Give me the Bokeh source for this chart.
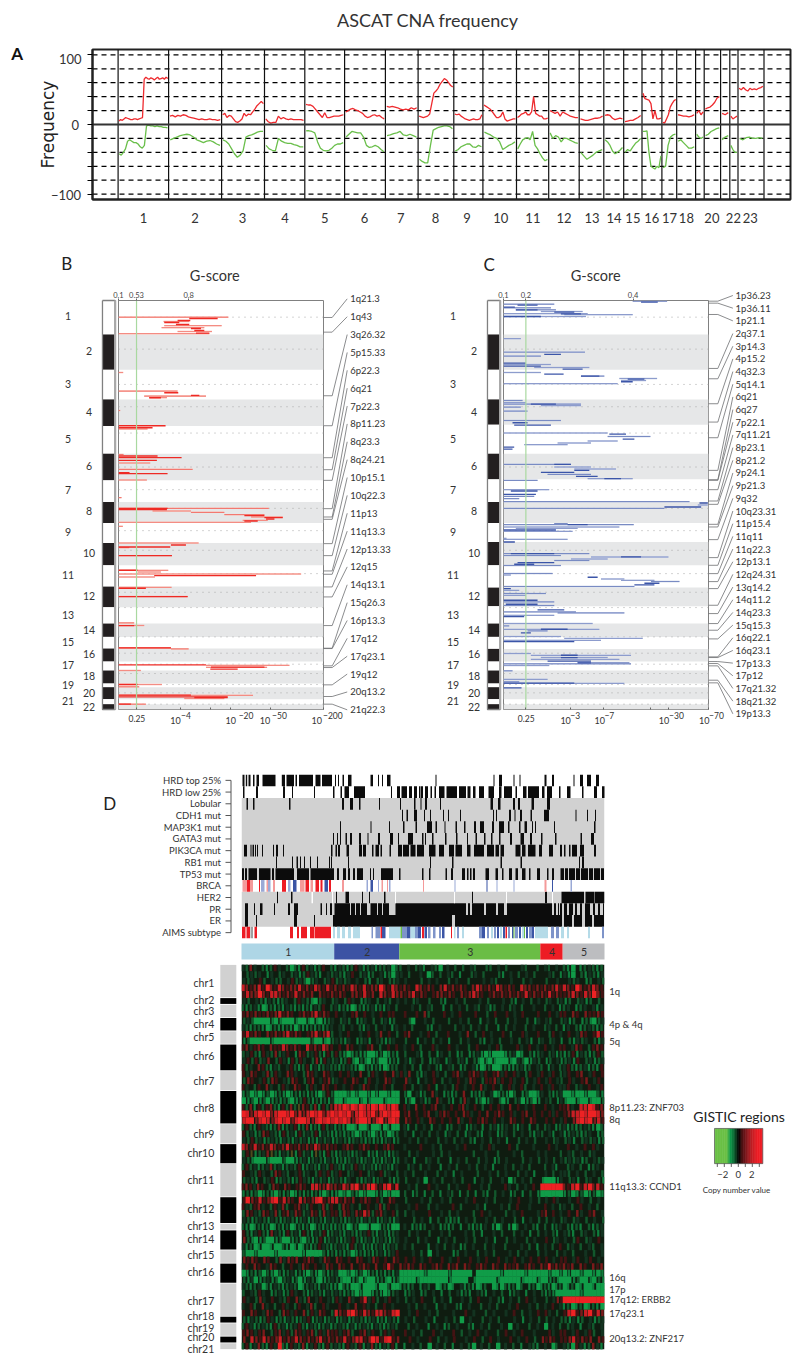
from bokeh.plotting import figure
from bokeh.layouts import column, row
from bokeh.models import Range1d, LinearAxis, FixedTicker
from bokeh.core.properties import value
from bokeh.embed import file_html
from bokeh.resources import INLINE
import numpy as np

FONT = "Lato"
# ---------- Panel A data ----------
chrom_width = [50.5,53,42.9,40.3,39.8,40.8,32.7,35.7,29.1,33.6,32.2,30.5,24.6,19.9,18.3,19.9,14.8,18.9,8.6,16.4,9.2,8.2,26]
a_tick_pos = [25.5,77,124.4,166.8,206.6,246.4,282.6,317.3,348.9,382.6,414.8,445.9,473.9,495.9,514.8,533.6,551.5,568.3,593.8,615.3,632.1]
a_tick_lab = ["1","2","3","4","5","6","7","8","9","10","11","12","13","14","15","16","17","18","20","22","23"]
gain = [
 [5,7,6,8,10,9,8,7,7,8,8,7,8,9,10,65,68,66,65,67,66,64,66,68,65,66,67,65,68,66],
 [12,13,11,13,12,14,13,11,10,9,8,7,8,7,7,8,7,7,6,7],
 [14,16,10,13,12,8,4,3,5,8,16,12,15,14,18,22,27,30,33,30],
 [8,4,2,3,3,12,8,10,8,7,8,7,7,7,7,6],
 [29,28,28,26,22,18,14,10,17,10,10,11,12,12,12,13,14],
 [18,20,22,23,21,20,18,16,12,10,11,13,14,12,13,10,8],
 [26,25,26,25,24,22,21,22,21,24,22,24],
 [12,11,10,11,12,15,30,45,48,52,58,62,66,64,60,56,54],
 [15,14,15,12,10,8,7,6,7,8,7,7,8,14],
 [28,26,24,22,18,14,10,10,12,18,8,5,6,7,8,8],
 [10,12,15,16,18,14,14,18,40,16,14,12,12,8,8,9],
 [20,18,16,18,12,18,16,14,12,11,10,10],
 [8,7,6,6,7,8,9,9,10,12],
 [13,14,13,9,7,8,9,8],
 [4,5,6,6,8,10,13],
 [45,37,36,35,30,8,20,8,8,9],
 [3,2,8,14,25,30,34,36],
 [14,13,12,12,11,12,14],
 [16,20,14,18],
 [22,24,25,28,32,38,40],
 [16,14,17],
 [12,8,10,12],
 [52,50,53,50,48,52,50,51,50,52,53,55],
]
loss = [
 [-42,-44,-40,-35,-24,-22,-24,-26,-26,-28,-32,-34,-30,-2,-1,-2,-2,-3,-2,-3,-3,-4,-4,-5],
 [-22,-20,-18,-16,-15,-14,-15,-18,-22,-24,-26,-24,-23,-25,-28,-30],
 [-22,-24,-28,-35,-42,-47,-44,-38,-18,-16,-15,-13,-11,-10,-10],
 [-30,-35,-37,-38,-20,-24,-26,-27,-27,-29,-30,-32,-32],
 [-9,-9,-10,-12,-25,-34,-37,-38,-37,-34,-30,-28,-28,-26],
 [-18,-14,-10,-11,-12,-12,-18,-30,-33,-32,-30,-32,-36,-39],
 [-16,-15,-13,-12,-10,-15,-16,-14,-16,-18],
 [-50,-53,-55,-55,-30,-8,-6,-4,-3,-2,-2,-3,-6],
 [-38,-36,-32,-30,-28,-28,-32,-33,-30,-32],
 [-11,-13,-15,-18,-20,-25,-36,-33,-30,-28,-25],
 [-35,-28,-22,-20,-19,-22,-10,-30,-35,-42,-48,-52,-50],
 [-12,-20,-16,-18,-25,-20,-20,-22,-24,-26,-27],
 [-40,-45,-50,-47,-44,-40,-38,-36],
 [-22,-25,-30,-38,-42,-40,-37,-33],
 [-40,-36,-38,-32,-27,-24,-20],
 [-10,-10,-9,-40,-60,-62,-64,-60,-62,-45],
 [-62,-60,-30,-18,-15,-14],
 [-24,-22,-26,-30,-34,-34,-32],
 [-14,-18,-20,-18],
 [-16,-14,-10,-8,-6,-5],
 [-22,-18,-16],
 [-30,-36,-40,-40],
 [-20,-22,-19,-18,-20,-20,-19,-20],
]
# ---------- Panels B and C data ----------
b_edges = [150,252,358,447,527,610,690,755,818,878,945,1009,1071,1120,1160,1195,1234,1261,1300,1311,1347,1362,1378]
c_edges = [150,252,358,447,523,610,687,755,818,875,945,1012,1068,1120,1160,1196,1234,1261,1300,1311,1347,1362,1378]
dotted_rows = [200,296,402,469,548,650,718,774,841,900,970,1026,1072,1160,1209,1242,1270,1303,1328,1362]
chrom_names = [str(i) for i in range(1,23)]
chrom_label_y = [198,303,400,484,565,648,718,783,846,908,975,1038,1093,1138,1175,1212,1245,1278,1303,1328,1352,1370]
b_light = [(200,203,532),(213,338,415),(226,340,512),(232,332,460),(243,380,483),(250,203,475),(366,203,217),(422,203,380),(437,280,465),(442,295,348),(480,203,208),(536,203,290),(612,203,218),(638,203,298),(657,203,425),(689,203,288),(742,203,212),
 (774,203,653),(782,305,420),(786,420,520),(793,520,640),(800,600,695),(810,575,650),(816,203,600),(828,203,216),(878,203,443),(892,203,235),(916,203,363),(960,203,352),(965,260,330),(971,203,750),(980,203,312),(1011,203,362),(1039,203,410),(1118,203,250),(1126,203,280),(1193,203,360),(1196,360,413),(1245,465,715),(1251,465,648),(1261,203,270),(1303,203,333),(1310,203,265),(1335,203,606),(1345,400,520),(1362,203,285)]
b_core = [(204,415,500),(210,380,418),(216,340,385),(222,375,415),(234,420,450),(240,430,460),(248,435,475),(427,340,382),(435,420,445),(442,295,330),(526,203,344),(532,203,305),(617,203,320),(622,203,392),(630,203,318),(667,203,236),(670,203,350),
 (778,203,348),(774,203,350),(796,580,640),(802,640,695),(806,645,670),(812,580,620),(884,360,405),(890,203,358),(960,203,260),(976,310,615),(1014,203,285),(1039,203,410),(1126,203,250),(916,203,363),(1193,203,360),(1244,203,465),(1251,480,640),(1257,478,560),(1340,203,530),(1342,430,530),(1335,203,420),(1362,203,240),(1303,203,260)]
c_light = [(152,575,678),(161,188,340),(172,188,330),(178,225,345),(183,300,425),(190,188,440),(193,370,575),(198,188,435),(265,188,240),(305,188,432),(317,188,300),(342,188,330),(351,280,445),(366,188,300),(377,420,490),(384,535,648),(390,540,615),(400,188,530),(450,188,245),(457,188,255),(461,188,420),(466,300,420),(470,188,240),(482,188,260),(510,188,360),(548,188,500),(558,500,628),(572,440,530),(578,350,450),(583,250,380),(642,188,390),(650,340,450),(656,400,525),(672,320,450),(685,440,575),(690,188,290),(718,188,325),(738,188,280),(745,188,235),
 (754,188,745),(764,770,800),(774,188,670),(820,340,380),(823,188,578),(830,188,535),(834,225,410),(843,188,395),(864,188,197),(867,188,380),(910,188,445),(916,188,360),(920,450,682),(926,390,500),(931,340,445),(946,188,360),(970,188,335),(974,188,210),(986,480,550),(990,540,640),(994,630,715),(1009,188,580),(1020,188,235),(1030,188,315),(1035,188,255),(1055,188,340),(1066,188,340),(1085,188,405),(1088,350,550),(1095,188,340),(1120,188,455),(1127,188,205),(1137,188,475),(1142,260,320),(1159,188,360),(1164,370,605),(1170,188,480),(1210,188,270),(1215,270,570),(1222,300,500),(1227,270,535),(1238,410,565),(1241,188,570),(1246,188,325),(1262,188,215),(1287,188,320),(1295,188,235),(1299,188,550)]
c_core = [(155,600,650),(164,230,290),(170,188,222),(178,225,290),(185,340,400),(190,360,420),(198,188,300),(312,310,360),(338,188,255),(347,188,300),(356,365,425),(371,310,368),(377,420,475),(386,560,610),(394,540,575),(461,270,345),(517,215,260),(524,220,330),(551,505,555),(566,545,580),(590,188,220),(596,188,215),(642,340,390),(660,400,445),(666,300,400),(678,405,470),(685,490,540),(722,210,290),(732,188,285),
 (758,775,800),(770,670,780),(823,380,440),(839,188,345),(875,188,222),(910,210,340),(920,540,600),(937,230,340),(942,220,280),(981,440,470),(999,610,655),(1004,580,640),(1015,188,210),(1050,188,290),(1062,195,290),(1079,290,370),(1099,188,250),(1137,300,380),(1148,240,270),(1174,188,400),(1215,360,410),(1222,360,410),(1233,320,450),(1238,410,450),(1299,188,400),(1313,188,242)]
b_labels = ["1q21.3","1q43","3q26.32","5p15.33","6p22.3","6q21","7p22.3","8p11.23","8q23.3","8q24.21","10p15.1","10q22.3","11p13","11q13.3","12p13.33","12q15","14q13.1","15q26.3","16p13.3","17q12","17q23.1","19q12","20q13.2","21q22.3"]
b_peaks = [201,245,436,526,622,658,690,775,800,807,880,916,962,972,1010,1040,1126,1194,1195,1247,1252,1304,1339,1362]
c_labels = ["1p36.23","1p36.11","1p21.1","2q37.1","3p14.3","4p15.2","4q32.3","5q14.1","6q21","6q27","7p22.1","7q11.21","8p23.1","8p21.2","9p24.1","9p21.3","9q32","10q23.31","11p15.4","11q11","11q22.3","12p13.1","12q24.31","13q14.2","14q11.2","14q23.3","15q15.3","16q22.1","16q23.1","17p13.3","17p12","17q21.32","18q21.32","19p13.3"]
c_peaks = [152,158,192,354,385,460,515,562,660,688,690,718,752,762,822,830,868,922,945,970,994,1015,1065,1090,1120,1140,1166,1220,1222,1234,1240,1247,1290,1298]
# ---------- Panel D data ----------
track_names = ["HRD top 25%","HRD low 25%","Lobular","CDH1 mut","MAP3K1 mut","GATA3 mut","PIK3CA mut","RB1 mut","TP53 mut","BRCA","HER2","PR","ER","AIMS subtype"]
hrd_top = [(0.5,2.5),(3.8,5.2),(6.5,8.5),(11,12.5),(14.5,17),(20.5,33.5),(39.8,43),(44.5,52),(53.5,55),(57,71),(73.5,78.5),(80,90),(93,94),(96,97),(100.5,102),(106,109.5),(128.5,131),(136,137),(140,141),(145,148.5),(193.5,194.5),(251.5,252.5),(257,260),(271.5,272.5),(277.5,278.5),(302.5,304.5),(310,312),(331.5,332.5),(338,341),(345,349),(354,357)]
hrd_low = [(1,2.5),(14,16),(41,43),(50,51),(72,73),(91,92.5),(98.5,100),(102.5,107),(112,123),(149,150),(155,158),(159.5,165),(167,170),(172,175),(177,178),(178.5,181),(183,186),(188.5,190),(192.5,194),(197,202.5),(204.5,215),(217,224),(225.5,228.5),(231,233.5),(237,242),(246.5,252),(257,259.5),(262,270),(273.5,275),(281,284.5),(286,297),(300,302.5),(305,310),(317,318.5),(325,328.5),(340,341.5),(352,355),(360,363)]
lobular = [(4.5,6),(11,12.5),(47,48.5),(100,102),(108,111),(117,118.5),(137,138),(158,159),(172,173.5),(178.5,179.5),(183,185),(198,199),(248.5,251),(256,258.5),(271,273),(276,278),(289.5,292),(305,308)]
cdh1 = [(160,161),(164.5,166),(172,175),(182,183),(188,189),(201,202),(206,207),(218,219),(251,252),(254,255),(267,269),(272.5,273.5),(278,280),(288.5,290),(302,307),(333.5,334.5),(345,346),(353,354)]
map3k1 = [(98,99),(128.5,129.5),(147,148),(161,162.5),(173.5,175),(185,190),(193.5,195),(202.5,203.5),(213.5,215),(222,223.5),(232,234),(238,242),(250,252),(257,262),(266,267.5),(277,278.5),(282.5,285),(290,291),(293,294),(312,313),(352,353.5)]
gata3 = [(91,92),(95,96),(98,99),(103.5,105),(108,110),(117,119),(125.5,126.5),(136,138),(148,151),(156,157),(166,171),(180,181.5),(183,184),(190,191.5),(203,204.5),(214,215.5),(225,226),(233.5,235),(242,243.5),(249,250.5),(257,258.5),(268,270),(278.5,282),(288,290),(299,300.5),(313,314.5),(338.5,340),(349,352)]
pik3ca = [(2,5),(8.5,9.5),(10.5,12),(13,14),(15,16),(20,21),(31,32),(34,36),(41,42),(89,90.5),(93.5,95),(96,98),(104.5,107),(117,120),(121,124),(130,131.5),(133.5,137),(138.5,140),(147.5,149),(156,160),(161,167),(168.5,173.5),(175,182),(187,193.5),(197,202),(207,212),(213.5,220),(225,228.5),(232,242),(245,252),(253.5,257),(258.5,262),(273.5,278.5),(280,283.5),(286,293.5),(297,300),(307,311),(318,320),(322,323.5),(327,328.5),(330,335),(338,342),(352,354)]
rb1 = [(34,35),(50,51),(54.5,56),(58,59),(62,63),(68,69),(75,76),(87,88),(89,90),(106,107),(188,189),(210,211.5),(258.5,260),(278.5,280),(337,338),(340,342)]
tp53 = [(0,2),(3,5),(6.5,15),(17,28.5),(30,32),(33.5,52),(55,67),(68.5,92),(95,97),(101,104),(106,108),(111,113),(115,121),(128,129),(131,132),(139,151),(157,158.5),(180,181.5),(187,188.5),(203.5,205),(209,211),(220,223),(225,226.5),(228,229.5),(231,233),(243.5,247),(253.5,256),(260,261.5),(267,270),(273.5,276),(280,283.5),(287,288.5),(295,298),(305,306.5),(310,312),(318.5,322),(323,326),(327,333),(334,338),(339,346),(347,351),(352,358),(359,362)]
her2 = [(35,36),(49,50.5),(94,95),(103.5,107),(120,121),(127,128),(142,143.5),(230,231),(303,305),(319.5,342),(343.5,352),(352.5,362.5)]
her2_gaps = [(69.5,71),(90,91),(153,154),(212,213),(264,265),(310,311)]
pr = [(3,6),(12,13),(18,20.5),(32,33),(46,48),(52,56),(78.5,80),(84,85),(88,90),(92.5,108),(109,113),(114,118),(119,125),(128.5,135),(136,140),(141,147),(153.5,182),(182,224),(226,228),(230,242),(244,254),(256,262),(265,300),(300,310),(312,314),(316,317),(318,320),(322,325),(327,331),(333,335),(338,340),(343,348),(351,353),(356,358),(361,362)]
er = [(3,6),(14,15),(52,55),(72,73),(91,210),(213,300),(300,312),(312,320),(322,330),(332,340),(343,350),(352,362)]
BL, LB, PK, RD, MB, LT, GN, GY = "#3b55a5", "#9aa9d6", "#f49a9a", "#ed1c24", "#7e94c9", "#b5dbe8", "#6abf45", "#a0a0a0"
brca = [(0.5,5,PK),(5,8,RD),(8,11,PK),(17,18,RD),(19,22.5,LB),(24.5,26,PK),(26,28.5,LB),(31,33,PK),(40,44,RD),(46,48.5,LB),(51,54.5,BL),(58,62.5,PK),(63.5,67,RD),(68.5,71,PK),(73.5,77,RD),(78.5,80.5,RD),(82.5,86,BL),(87,89,RD),(100,102,PK),(124.5,126,LB),(128.5,131,BL),(136,137,LB),(139.5,141,PK),(145,146,PK),(147,148.5,LB),(181,182,PK),(212.5,213.5,LB),(244.5,245.5,BL),(254.5,255.5,LB),(271.5,272.5,LB),(302.5,304.5,PK),(310,311,BL),(328.5,330,LB)]
aims = [(0,3.5,RD),(4.5,8,RD),(8.5,11,GY),(12.5,15,RD),(48,51,RD),(55,57,RD),(59,65,RD),(68,72,RD),(72.5,89,RD),(91,93,LT),(95,98,LT),(100,103,LT),(106,109,LT),(111,118,LT),(129.5,131,MB),(133.5,138,MB),(138.5,140,RD),(140,143.5,BL),(147,158.5,LT),(158.5,160,GN),(160,165,MB),(165,168.5,BL),(168.5,173,LT),(173,176,MB),(176,179,BL),(180,182,RD),(182.5,185,BL),(186,188.5,MB),(191,193.5,MB),(197,199,MB),(200,202.5,BL),(209,210,RD),(212,213.5,LT),(215,217,MB),(220,222,LT),(237,240,MB),(240,243,BL),(245,247,MB),(249,251,LT),(252,254,MB),(255,257,BL),(258,260,LT),(261,263,BL),(263.5,265,RD),(266,268,MB),(270,271.5,BL),(271.5,272.5,GN),(273,276,MB),(277,279,BL),(280,282,LT),(282,283,GN),(284,286,BL),(287,290,MB),(290,292,BL),(293,306,LT),(309,312,MB),(314,317,MB),(319,322,LT),(325,327,LT),(346,348,LT),(360,362,MB)]
cluster_edges = [0,92.7,157.8,298.8,321.2,363]
cluster_names = ["1","2","3","4","5"]
cluster_cols = ["#aed6e6","#3c53a4","#6abd45","#ed1c24","#bcbdc0"]
heat_color = {'.':'#0f1c10','d':'#133320','m':'#12582c','g':'#0f7c3c','G':'#109c48','o':'#4f4a1c','r':'#431313','R':'#7c1a1b','B':'#c81e24','!':'#ee2224'}
stripe_share = {'.':1,'d':0.75,'m':0.6,'g':0.55,'G':1,'o':0.5,'r':0.7,'R':0.6,'B':0.8,'!':1}
heat_rows = [
'dmRd.mgmrd.mGmgrmdgmr.m|gdmgmrdgmdgmmdGm|m.d.mdg.dmG.d.m.m.dm..mm.d.m...dm..m|.dm.d.|mgG.gmdmgm',
'.mdmd.gd.md.mdgmrdmg.dm|dmgdr.mdgm.dgmGd|d.m..d.Gm.m.dm.g..md.m...mg.d.m.d.m.|..dm.g|dgG.mgdmgd',
'dmd.rm.dmm.drmdmGmd.mdr|mdmd.d.mg.md.mmd|.d...m.d.d..m.d..m...d.dm...d..m.d..|.m..d.|.dmd.gm.dm',
'BRrRBr!RrBRrRRBrRrBRrBr|RrRrBRrBrRR!RrBR|rRr.BRrRr.RBrRrRr.RBRrRrBRrRr.BRRrR|rRrRBr|BRr!RrRBRr',
'rBRR!RrBBRrRrBrRrR.RrrR|rRr.RRrBrR.BRrBR|RrRBrRr.rRRrRr.RrRBRr.rRrRrRrRrBrRr|RrBrRr|rRBRrBR!Rr',
'dm.dmgdmgmd.mrdmgGmd.m|d.mrd.gmd.m.dm.d|.d.md..m..mg..d.m...d.m...d.mg.d.m.d|.md.md|gm.mdgm.m.',
'mgmdgGgmgmgdmgmgmgdmr.m|dgmgGgmgmdgmgd.m|...d.m.dm..g.m.d.m.dm.dgm.d.md.m..d.|.m.d.g|md.gmd.dgd',
'rRrRrrRrRBrRr.rRrRBrRr.|r.d.rR.r.d.r.rr.|.r..r.Rm...r.d.r...r..m.r..r.d.r...r|..r.dr|r.Rr.RrrRr',
'mdmGGGGgGgGGGgGGgGgGgmd|.mdm.gmd.m.mdgm.|..mG..d.m...m..d.m..g.d.m..m.d..m.gd|.dm..m|dgm.gmgGmd',
'dmgmmgGgmggmgGmggmgmgmd|.dm.d.mgd.m.d.gd|.d.m...mg.d...m.d.m.d.m..g.m.d..m.d.|.md.m.|gd.mgmdmgm',
'rBrRr.RrRrRBrRr.rRBrRBm|.d.r..d.r.dR.r.m|.rR..d.r.m..r..d.R.m.r.d..r.m..rd..r|..mr.d|.r.dRr.rBr',
'gmGGGGGgGGGGGGGGGmGGgGm|dmgd.gmdg.dmgmd.|.m..g.d.m.d.g..m.d..mg.d.m..d.m.dg.m|d.md.g|.mgdmd.mgd',
'rRdrRr.RrrBRrRr.BrRrBRr|.r.Rr.d.rR.m.r.r|.d.r.m..rd..r.d..m.r..d.rm...rd.r.d|.r.d.r|r.dRr.mrRr',
'mdrmgrdmRmdr.gRrmdrmgrm|rmgGgmggGGgmGgmg|.m..dg.m.gd.m.gm.gmdgGgGGGgmdGg.mgm|d.mdgm|gmrgdmgmrm',
'drmrmdR.mrdgrmrd.mRgrdm|dgmrgGmgGgmGGgmg|.dgd.m.gmd.gd.mdg.mgGgGgGGGgGdmGgdm|.gm.dg|mdgr.mdgmd',
'rmd.Rrmgdm.drmgmrgdgmdm|mgmdmgGgmgmgGgmm|.d.m.g.d.mg.dm.gm.dgGgmGGgmggmdgm.d|m.gd.m|drmgmdgmgr',
'rdRr.dRmrd.Rrd.mRrd.Rrd|.r.rd.R.mrd.r.Rd|rdR.mgd.rd.m.rRd.rRrdr.rRdr.rd.mr.d|r.dr.m|dr.rR.dr.r',
'mRr.drmRr.dmRr.mrR.drRm|d.r.Rr.mr.d.Rrd.|.Rd.g.d.r.m.d.r.dRr.mrrRdr.rd.rm.dr|.dr.dm|.rd.rR.dr.',
'rd.mr.Rd.mrd.Rr.mrd.Rr.|r.d.r.dRr.d.r.m.|.r.m.d.r.g.d.mr.d.r.Rd.r.m.rd.rm.d.|r.dr.d|dr.md.r.dr',
'gmGgGgmGgmgGgmgmgmgGmrm|GGGgGgGGgGgGGgGG|.mG.dgm.Rd.gmgm.R.gmgm.dGgmgGm.gmGGg|d.mgmd|GGgGGgGGmg',
'GgmGgmGgmgmgGgmrmgmgmgd|GGgGGGgGgGGGgGGG|.gmG.dgm.Rd.mg.mRd.gmGgd.mGg.mdGgmGg|.dm.gd|gGGgGGgGGm',
'rmRgrmrRmgrmRmoRrmRgrmR|BB!B!B!BB!B!BB!B|.rd.R.r.rR.d.r.rRd.r.m.r.rd.R.r.d.r.|.r.d.r|rRd.BB!BrR',
'!BRB!B!RB!!B!RBRB!B!RB!|B!B!RB!BB!RB!B!!|.rR.r.rR.drRr.r.Rrd.r.R.rRr.rd.rR.r.|r.rdr.|rRBB!B!!BR',
'B!!RB!BRB!B!RB!!BRB!B!B|!B!BRB!!BRB!RB!B|.Rr.rd.Rr.r.r.Rd.r.rRr.r.d.Rr.r.Rr.|.r.r.d|r.RB!B!RBr',
'mrmgrdmgmRgmdrgmRgmgrmd|gmgGGgGGmGGgGgGG|.dg.m.d.g.d.gm.d.gmd.g.mdgmd.mgd.g.m|.md.gm|dgmgmdmgGm',
'rmdgmRrdmgrmdgrmdmrgdmg|gmgmgGgmgGmgmGgm|.d.g.d.m.d.gd.m.gd.mg.d.gmd.m.d.mgd|m.dg.d|gmdmgmd.gm',
'dmrmdgmdmgdmgdmdgmgdmdg|mdmgmdmgmgmgmdgm|..d.m.d..m.d.m.d.mg.d.m.d.g..m.d.m.|.d.md.|mdg.mdmdgm',
'BRrBrRrBRrRBrrRrRrBRrRr|r.rRr.rRr.r.rRr.|.d...r..d.m...d.r...d.rd...r.m...d.|..r.d.|.r.d.r.rd.',
'mrogmdRomgdmogrmdgomgrm|gmdmgmd.gmgdmgmd|..m.d...d.m.d.....m..d..m...d.m...d|.d...m|.dm.d.md..',
'dmgGGGgGGGmGGgmdgmdmgdm|gmgmdmgmdgmgmdgm|.d.g..md.m..g.d.m..m.d.gm.d...m.d.m|.d.m.d|mdmdgm.dmd',
'mrmdgmdRmdgmdmrgmdmgdmr|dmgdmrdmdmgmdmgd|..md.m.d..g.d.m..d.m.d.g..d.m.d.m..|.m.dg.|.md.m.gmd.',
'r.dmrd.mRrdm.drmd.mrdrm|dr.md.r.md.rmd.m|.d.m..d..m.d.g.d...m..d.m.d..m.d.g.|.d.m.d|dm.d.m.d.m',
'mdmg.mdrgmdmgmrdmgdmdgm|dmgd.mgmdgmd.mgm|.m..d.G.d.m..d.m..g.d.m..d.Gm.d.m..|gGGGgd|.mdg.md.mg',
'rRrdRr.mRr.Rr.rRr.BBRRBR|RrBRB!rRB!RrB!rB|..d.m..r.d..m.d..r..d.m...rd.m.d.r.|!!!!!!|RrB!rB!RBr',
'gmgmGgmgGmgmGgmgmgmgGmg|gGgGmgGgGGgmGgGG|.m.gm.g.m.g.dm.g.m.g.mg.m.d.gm.g.m.g|GGGGGG|gmGgmGgmGg',
'r!RrBrRB!rBRr.BRrRB!rRB|BrRrR.rRr.rm.Rr.|.m...d.m..d.m...d.r..d.m...d.r..d.m|.d.rd.|.d.rd.m.d.',
'rdmrRd.mrdRm.rRdmr.dRmr|.mRrd.m.r.dRmr.d|..d.r..m.d...r.m...d.g...d.m.r..d..|.r.d.m|d.m.r.d.m.',
'mRrdmRrdRmrRdRrmdRrmRdr|rmRrdRrBRmrRd.rm|.m.d...r..d.m.d...m.r.d...m.d.r...d|rR.r.d|.r.Rd.rR.d',
'dmgmdmgdmgmdmgmdgmdmgdm|dmgmdmgdmdgmdmgd|...m.d.g.m.mgmg.d.m..d.m.d..m.g.d.m|.m.d.m|d.md.m.d.m',
'mgGgmgmGgmgmGgmgmGgmgmg|gmgGgmGGgGGgmgGG|.d.gmgm.d.gmgm.g.mgmgd.gGm.gGm.d.mg|.m.gmd|.mgmg.mgmd',
'rmgdrmgRdmgrmdgrmgdmrgm|dmgdmgmdrmgdmgmd|..m.d..m..d.m...d.m.g..d.m..m.d.g.m|.d.mg.|dmg.md.mgd',
'RmgGgmGGgmGGgmgGmgmrgmd|mgmdrmgmdgmdmgmd|.d..m.d..g.d.m..d.m..d.g..m.d..m.d.|.r.md.|d.mr.md.r.',
'dgmGgGGgGGmgGgGgmgmrdmg|mdmgrmdgmgmdgmdm|.d.m...g.d.m.d.gm.d..m.d..m...d.m.g|.d.m.r|.md.m.dm.d',
'mGGgGGGGgGGGGGGgGGGGmgm|gmgmGgmgmgmdgmdr|...d.m.G.d...gm.d..m.d.m...d.m.d..m|.d..m.|d.m..d.m.d',
'RrRr.Rr.mRdRrR.rRr.dRr.|Rr.r.Rr.dRr.r.Rr|.r.r.d.r..r.d.r..r.d.r..r.d.r.d.r.r|.r.d.r|r.dr.dr.d.',
'dr.Rr.dRr.m.r.dRr.r.dRr|.Rr.R.rRr.R.rBr.|RrRr.Rr.rRr.RrR.Rr.rRr.Rr.RrrR.rRr.|RrBrRr|RrR.Rr.RrR',
'GgmgmGmgGmgmdgmgGmgGmgm|dGGgGgmGgmgmgmgd|GGGGGGgGGGGGgGGGGG.GGGGGGgGGGGGgGGG|GGgGGg|GgGGgGGgGg',
'mgdGgmdgmGmdgmGgdmgGgmd|mgGGgmGgGGgmgGgm|GGGGgGGGGGGGgGGGG.gGGGGGgGGGGGgGGGg|GGgmgG|GGgmGGgGmg',
'dmgmdGmgdmgmdmGgmdmgdmg|gGmgGGgGGGgGGmGG|gmgm.gdm.GgmGg.dgmgGgm.GgGmgmGm.gmG|gmgGgm|GgmGgGGgGG',
'm.dmrd.gmdgmrd.mgmdmgdm|dmgmgGgGGgmgGgmd|.gmd.gm.d.g.m.dgmg.dmg.d.m.gmd.g.d.|mgmgGG|GGGGgGGGGG',
'rd.mRd.r.dmr.RdmR.dr.dm|rd.Rd.rBdrm.dr.d|.m.d.r..m.d.g..d.m.r..d.mg.d.m.r.d.|.m.dRr|!!!!!!!!!!',
'd.rm.Rd.m.rd.mr.dRm.rd.|.r.d.R.rd.m.r.d.|..d.m.d..g.d..mg.d..m.d.m..d.r..d.m|.d.r.d|gmGgmGgmgG',
'r.Rr.dRr.mRrdr.RmrdRr.m|BRrB!RrBRrBBRrB!|..d.r..d.m...d..r.d..m.d..d.r.m.d.r|.rd.m.|rB!rRB!rBR',
'mgdmgmrdgmgdmgmdrgmdgmd|gmdgmdmgmdgmgdmg|.d.m..d.g..d.m.G.d..m.d.m...d.g.d.m|.m.d.m|mgdgm.dgmd',
'mrdgmdmgrmdgmdrmgdmgmdg|mdmgdgmdmgdmgmdm|..m.d..g.d.gm.d..mg.d.m..d.G.d..m.d|.G.d.m|.md.g.dm.d',
'rRrdrR.mrRdrmRrdrRmrdRr|rdrRm.rRdr.mrdr.|.r.d.m..r.d..r.m.d.r.d..m.r.d.r..d.|..rd.r|r.dr.drm.d',
'R.BRrBRrRBrRrBRrRrRBrRr|RrBrRBBrR!BrB!rR|..r.d..r.m.d.r..d.r.m.r.d..r.d.r.m.|RrRr.r|rRBrRrR.Rr',
'mrgdRmgrd!mgrdmRgdrmgrm|dmgrdmrgdRmgdmrg|.g.d.m.G.d.m.g.d.mG.d.m.G.d.m.g.dmg|.d.Gm.|dmGrdgmRdg',
]
chrom_rows = [5,1,2,2,2,4,3,5,3,3,5,4,1,3,2,3,5,1,2,1,1]
heat_chr_names = ["chr%d"%i for i in range(1,22)]
heat_chr_y = [2.77,5.38,7.03,8.95,10.95,13.8,17.6,21.65,25.6,28.4,32.4,36.9,39.4,41.4,43.7,46.3,50.7,52.9,54.7,56.1,57.9]
region_names = ["1q","4p & 4q","5q","8p11.23: ZNF703","8q","11q13.3: CCND1","16q","17p","17q12: ERBB2","17q23.1","20q13.2: ZNF217"]
region_y = [4.1,9,11.6,21.6,23.3,33.5,47.2,49,50.5,52.6,56.3]
legend_values = [-3.4,-1.7,-1.2,-0.7,0,0.5,1.2,2,2.7,3.5]
legend_colors = ['#6abf45','#6abf45','#0d9a4a','#0c6b35','#000000','#4a0f10','#8a1a1e','#c81e24','#ed1c24','#ed1c24']

def txt(p, xs, ys, labels, size, align="center", color="#333333", baseline="middle", angle=0, style="normal"):
    p.text(x=list(xs), y=list(ys), text=list(labels), text_font=value(FONT), text_font_size=size, text_font_style=style,
           text_align=align, text_baseline=baseline, text_color=color, angle=angle, level="overlay")

def base(w, h, fl, ft, fw, fh, xr, yr):
    p = figure(width=w, height=h, frame_width=fw, frame_height=fh, x_range=xr, y_range=yr,
               x_axis_location=None, y_axis_location=None, toolbar_location=None, output_backend="svg",
               min_border_left=fl, min_border_top=ft, min_border_right=w-fl-fw, min_border_bottom=h-ft-fh)
    p.grid.visible = False
    p.outline_line_color = None
    return p

# ---------- Panel A ----------
edges = np.concatenate([[0], np.cumsum(chrom_width)])
pa = base(800, 240, 92, 49, 698, 150, Range1d(-25.6, 672.4), Range1d(-107.7, 107.7))
pa.outline_line_color = "#222222"; pa.outline_line_width = 2
for v in [-100,-80,-60,-40,-20,20,40,60,80,100]:
    pa.line([-25.6, 672.4], [v, v], line_color="black", line_width=1.2, line_dash="5 4")
pa.segment(edges, [-107.7]*len(edges), edges, [107.7]*len(edges), line_color="#111111", line_width=1.2)
def series(vals):
    xs, ys = [], []
    for i, v in enumerate(vals):
        n = len(v)
        xs.append(list(edges[i] + (np.arange(n)+0.5)/n*chrom_width[i])); ys.append(v)
    return xs, ys
gx, gy = series(gain); lx, ly = series(loss)
pa.multi_line(gx, gy, line_color="#ee2a2e", line_width=1.3)
pa.multi_line(lx, ly, line_color="#6abf4b", line_width=1.3)
pa.line([-25.6, 672.4], [0, 0], line_color="#333333", line_width=2)
ax = LinearAxis(ticker=FixedTicker(ticks=a_tick_pos), major_label_overrides=dict(zip(a_tick_pos, a_tick_lab)),
                major_tick_line_color=None, minor_tick_line_color=None, axis_line_color="#222222", axis_line_width=2,
                major_label_text_font=FONT, major_label_text_font_size="13px", major_label_text_color="#333333", major_label_standoff=7)
pa.add_layout(ax, "below")
ay_ticks = [-100,-80,-60,-40,-20,0,20,40,60,80,100]
ay = LinearAxis(ticker=FixedTicker(ticks=ay_ticks), major_label_overrides={v: "" for v in ay_ticks},
                major_tick_out=5, major_tick_in=0, minor_tick_line_color=None, axis_line_color="#222222", axis_line_width=2,
                axis_label="Frequency", axis_label_text_font="DejaVu Sans", axis_label_text_font_style="normal",
                axis_label_text_font_size="17px", axis_label_text_color="#222222", axis_label_standoff=30)
pa.add_layout(ay, "left")
txt(pa, [-36.5, -39, -37], [94.3, 0, -100.9], ["100", "0", "\u2212100"], "13px", align="right")
txt(pa, [310], [149.5], ["ASCAT CNA frequency"], "18px")
txt(pa, [-101], [102], ["A"], "17px", color="#111111", style="bold")

# ---------- Panels B, C ----------
def gistic(w, fl, frame_l, frame_r, bar_l, bar_r, edges_z, light, core, lt, mid, cr, thr, labels, peaks, lab_x, lab_y0, lab_y1,
           bend, end, top_t, top_l, bot_t, bot_minor, base_x, exp_x, exp_l, letter, letter_xy, gs_x):
    p = base(w, 505, fl, 60, 205, 409, Range1d(frame_l, frame_r), Range1d(1378, 150))
    p.outline_line_color = "#808080"; p.outline_line_width = 1
    e = np.array(edges_z, float)
    p.quad(left=frame_l, right=frame_r, top=e[1:-1:2], bottom=e[2::2], color="#e6e7e8", line_color=None)
    p.segment(frame_l, dotted_rows, frame_r, dotted_rows, line_color="#a8a8a8", line_dash="1 5", line_width=1)
    p.hbar(y=[s[0] for s in light], left=[s[1] for s in light], right=[s[2] for s in light], height=4.5, color=lt, line_color=None)
    p.hbar(y=[s[0] for s in light], left=[s[1] for s in light], right=[s[2] for s in light], height=1.8, color=mid, line_color=None)
    p.hbar(y=[s[0] for s in core], left=[s[1] for s in core], right=[s[2] for s in core], height=4, color=cr, line_color=None)
    p.line([thr, thr], [150, 1378], line_color="#a9d9a0", line_width=1.2)
    p.quad(left=bar_l, right=bar_r, top=e[:-1], bottom=e[1:],
           color=["#ffffff" if i % 2 == 0 else "#231f20" for i in range(22)], line_color=None, level="overlay")
    p.line([bar_l, bar_r, bar_r, bar_l, bar_l], [150, 150, 1378, 1378, 150], line_color="#808080", line_width=1.3, level="overlay")
    p.line([bar_r, bar_r], [150, 1378], line_color="#a8a8a8", line_width=2.2, level="overlay")
    odd_x = frame_l - 151; even_x = frame_l - 88
    xs = [odd_x if i % 2 == 0 else even_x for i in range(22)]
    txt(p, xs, chrom_label_y, chrom_names, "10.5px")
    ly_ = np.linspace(lab_y0, lab_y1, len(labels))
    lx_ = [[frame_r, bend, end] for _ in labels]
    ly2 = [[pk, pk, l] for pk, l in zip(peaks, ly_)]
    p.multi_line(lx_, ly2, line_color="#6d6e71", line_width=0.8, level="overlay")
    txt(p, [lab_x]*len(labels), ly_, labels, "9.5px", align="left")
    ta = LinearAxis(ticker=FixedTicker(ticks=top_t), major_label_overrides=dict(zip(top_t, top_l)), axis_line_color=None,
                    major_tick_in=0, major_tick_out=2, major_tick_line_color="#666666", minor_tick_line_color=None,
                    major_label_standoff=1, major_label_text_font=FONT, major_label_text_font_size="7.5px", major_label_text_color="#444444")
    p.add_layout(ta, "above")
    ba = LinearAxis(ticker=FixedTicker(ticks=bot_t, minor_ticks=bot_minor), major_label_overrides={t: "" for t in bot_t}, axis_line_color=None,
                    major_tick_in=2, major_tick_out=0, minor_tick_in=2, minor_tick_out=0, major_tick_line_color="#666666", minor_tick_line_color="#666666")
    p.add_layout(ba, "below")
    txt(p, [thr+1], [1405], ["0.25"], "8.5px")
    txt(p, base_x, [1410]*len(base_x), ["10"]*len(base_x), "9px")
    txt(p, exp_x, [1395]*len(exp_x), exp_l, "8.5px")
    txt(p, [letter_xy[0]], [letter_xy[1]], [letter], "17px", color="#222222")
    txt(p, [gs_x], [75], ["G-score"], "14.5px")
    return p

pb = gistic(392, 118, 203, 817, 155, 193, b_edges, b_light, b_core, "#f9b4aa", "#f0645c", "#ee2a24", 257, b_labels, b_peaks, 897, 145, 1379,
            843, 888, [203,257,413], ["0.1","0.53","0.8"], [257,388,538,658,817], [480],
            [374,539,642,797], [405,585,685,845], ["\u22124","\u221220","\u221250","\u2212200"], "B", (48,40), 491)
pc = gistic(400, 111, 188, 802, 140, 178, c_edges, c_light, c_core, "#b6c1e0", "#6478ba", "#3b55a8", 255, c_labels, c_peaks, 883, 135, 1391,
            830, 875, [188,255,576], ["0.1","0.2","0.4"], [255,388,488,682,802], [627],
            [374,476,669,789], [403,505,706,826], ["\u22123","\u22127","\u221230","\u221270"], "C", (145,42), 464)

# ---------- Panel D tracks ----------
pd1 = base(800, 219, 241, 29, 363, 164, Range1d(-0.5, 362.5), Range1d(14, 0))
pd1.quad(left=-0.5, right=362.5, top=[2,10], bottom=[9,13], color="#d1d1d1", line_color=None)
binary = {0:hrd_top,1:hrd_low,2:lobular,3:cdh1,4:map3k1,5:gata3,6:pik3ca,7:rb1,8:tp53,10:her2,11:pr,12:er}
L,R,T,B,C = [],[],[],[],[]
for t, iv in binary.items():
    for a, b in iv:
        L.append(a);R.append(b);T.append(t);B.append(t+1);C.append("#0c0c0c")
for a, b in her2_gaps:
    L.append(a);R.append(b);T.append(10);B.append(11);C.append("#ffffff")
for t, iv in {9:brca,13:aims}.items():
    for a, b, c in iv:
        L.append(a);R.append(b);T.append(t);B.append(t+1);C.append(c)
pd1.quad(left=L, right=R, top=T, bottom=B, color=C, line_color=None)
tc = np.arange(14)+0.5
txt(pd1, [-21]*14, tc, track_names, "9.5px", align="right")
pd1.segment([-16.5]*14, tc, [-11]*14, tc, line_color="#555555", line_width=1, level="overlay")
pd1.line([-11,-11], [0.5,13.5], line_color="#555555", line_width=1, level="overlay")
ce = np.array(cluster_edges)
pd1.quad(left=ce[:-1]-0.5, right=ce[1:]-0.5, top=14.43, bottom=15.8, color=cluster_cols, line_color=None, level="overlay")
txt(pd1, (ce[:-1]+ce[1:])/2, [15.12]*5, cluster_names, "10.5px")
txt(pd1, [-132.4], [2.48], ["D"], "17px", color="#222222")

# ---------- Panel D heatmap ----------
pd2 = base(800, 396, 241, 0, 363, 385, Range1d(-0.5, 362.5), Range1d(58, 0))
pd2.quad(left=-0.5, right=362.5, top=0, bottom=58, color=heat_color['.'], line_color=None)
L,R,T,B,C = [],[],[],[],[]
for i, r in enumerate(heat_rows):
    for k, seg in enumerate(r.split("|")):
        w = (cluster_edges[k+1]-cluster_edges[k])/len(seg)
        for j, ch in enumerate(seg):
            if ch == '.':
                continue
            share = stripe_share[ch]
            slack = (1-share)*w
            x0 = cluster_edges[k]+j*w-0.5+slack*(i % 3)/2
            L.append(x0);R.append(x0+share*w+(0.4 if share == 1 else 0));T.append(i);B.append(i+1.03);C.append(heat_color[ch])
pd2.quad(left=L, right=R, top=T, bottom=B, color=C, line_color=None)
cr_ = np.concatenate([[0], np.cumsum(chrom_rows)])
pd2.quad(left=-21.7, right=-5.7, top=cr_[:-1]+0.06, bottom=cr_[1:]-0.06,
         color=["#d1d1d1" if i % 2 == 0 else "#000000" for i in range(21)], line_color=None, level="overlay")
txt(pd2, [-27.7]*21, heat_chr_y, heat_chr_names, "10.5px", align="right")
txt(pd2, [367.3]*len(region_y), region_y, region_names, "9.5px", align="left")
# colour key: value v sits at x = 496.3 + 7 v
key_v = np.linspace(-3.4, 3.5, 70)
def hex2(c): return np.array([int(c[i:i+2],16) for i in (1,3,5)],float)
rgb = np.array([hex2(c) for c in legend_colors])
key_c = ["#%02x%02x%02x" % tuple(int(np.interp(v, legend_values, rgb[:,k])) for k in range(3)) for v in key_v]
kx = 496.3 + 7*key_v
pd2.quad(left=kx, right=np.minimum(kx+1.2, 520.8), top=24.7, bottom=30, color=key_c, line_color=None, level="overlay")
pd2.line([472.5,520.8,520.8,472.5,472.5],[24.7,24.7,30,30,24.7], line_color="#666666", line_width=0.8, level="overlay")
kt = np.array([-3,-2,-1,0,1,2,3])
pd2.segment(496.3+7*kt, [30]*7, 496.3+7*kt, [30.5]*7, line_color="#333333", line_width=0.8, level="overlay")
txt(pd2, [480.7,496.3,509.7], [31.7]*3, ["\u22122","0","2"], "9.5px")
txt(pd2, [497], [22.85], ["GISTIC regions"], "14px", color="#222222")
txt(pd2, [494.7], [33.9], ["Copy number value"], "8px")

page = column(row(pa), row(pb, pc), pd1, pd2)
open("out.html", "w").write(file_html(page, INLINE))
